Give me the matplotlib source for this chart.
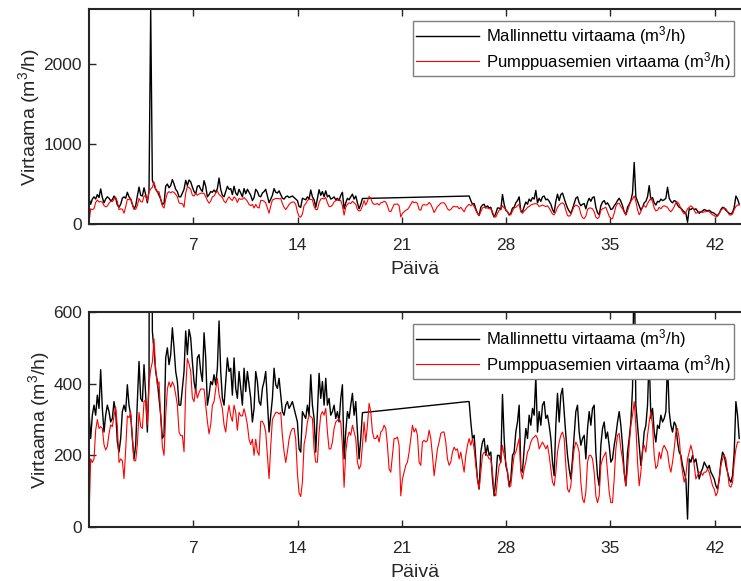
import numpy as np
import matplotlib.pyplot as plt

plt.rcParams['font.family'] = ['Liberation Sans', 'DejaVu Sans']
plt.rcParams['mathtext.fontset'] = 'custom'
plt.rcParams['mathtext.rm'] = 'Liberation Sans'
plt.rcParams['mathtext.it'] = 'Liberation Sans:italic'

# ── Data (m3/h), sampled every ~0.112 days ───────────────────────────────────
dt = 0.1119

red = [
    20, 190, 180, 190, 270, 300, 275, 280, 275, 230,
    215, 225, 260, 285, 280, 310, 335, 280, 180, 190,
    185, 135, 215, 310, 305, 320, 250, 185, 185, 230,
    320, 280, 275, 350, 355, 285, 400, 440, 460, 525,
    440, 395, 405, 310, 225, 200, 310, 385, 405, 390,
    405, 395, 370, 340, 265, 255, 255, 210, 385, 470,
    455, 435, 360, 350, 385, 360, 375, 385, 385, 385,
    340, 295, 260, 285, 340, 350, 385, 415, 370, 350,
    330, 285, 265, 310, 340, 310, 295, 340, 320, 270,
    320, 310, 310, 330, 310, 285, 245, 230, 245, 200,
    245, 210, 200, 295, 295, 285, 265, 200, 135, 225,
    300, 310, 320, 320, 315, 320, 255, 210, 180, 210,
    245, 265, 275, 275, 245, 150, 95, 85, 125, 230,
    255,
    293, 312, 308, 303, 218, 181, 181, 265, 312, 322,
    312, 331, 265, 218, 218, 237, 275, 293, 298, 303,
    293, 228, 111, 209, 247, 265, 256, 284, 265, 247,
    181, 162, 172, 228, 293, 237, 284, 345, 322, 265,
    247, 247, 256, 237, 265, 270, 284, 275, 228, 162,
    153, 200, 247, 247, 251, 228, 87, 134, 153, 172,
    181, 209, 247, 284, 265, 275, 256, 181, 172, 237,
    242, 237, 242, 270, 247, 200, 143, 181, 218, 237,
    261, 265, 265, 237, 190, 172, 181, 209, 223, 214,
    218, 190, 209, 181, 153, 200, 228, 247, 228, 247,
    218, 172, 134, 106, 153, 200, 209, 204, 200, 190,
    190, 153, 97, 87, 134, 172, 181, 228, 200, 181,
    153, 111, 115, 162, 200, 209, 228, 247,
    153, 134, 162, 181, 209, 218, 237, 247, 251, 256,
    247, 218, 228, 237, 228, 218, 228, 200, 162, 125,
    115, 153, 209, 237, 256, 265, 247, 172, 106, 97,
    115, 172, 218, 237, 228, 209, 125, 78, 68, 97,
    181, 200, 200, 190, 153, 87, 68, 87, 172, 190,
    200, 209, 153, 97, 68, 68, 134, 218, 256, 261,
    218, 190, 153, 115, 162, 228, 284, 312, 350, 284,
    181, 115, 153, 218, 228, 209, 256, 293, 322, 284,
    200, 163, 172, 209, 190, 218, 228, 218, 209, 172,
    153, 181, 218, 265, 275, 247, 190, 153, 125, 144,
    190, 209, 228, 209, 172, 134, 144, 153, 153, 144,
    153, 153, 162, 153, 134, 115, 106, 87, 97, 134,
    172, 190, 200, 190, 153, 115, 111, 125, 181, 218,
    237, 237,
]

# modelled flow: two stretches, no model output in between
black_a = [
    322, 247, 312, 340, 312, 368, 331, 439, 331, 265,
    312, 340, 322, 293, 303, 350, 322, 237, 209, 247,
    322, 340, 322, 397, 340, 312, 247, 190, 228, 350,
    462, 359, 350, 453, 368, 265, 415, 2690, 547, 490,
    434, 406, 359, 312, 247, 256, 472, 500, 453, 481,
    556, 500, 434, 406, 340, 340, 387, 434, 547, 481,
    551, 528, 462, 406, 378, 472, 481, 434, 406, 542,
    472, 340, 368, 406, 397, 425, 397, 443, 575, 434,
    359, 340, 406, 472, 434, 443, 368, 472, 387, 359,
    434, 387, 340, 443, 378, 434, 397, 359, 293, 331,
    434, 406, 350, 340, 387, 406, 434, 350, 265, 312,
    359, 443, 397, 387, 415, 368, 322, 312, 340, 350,
    331, 340, 350, 331, 312, 293, 218, 209, 322, 312,
    303,
    340, 312, 425, 340, 303, 209, 322, 429, 359, 406,
    340, 415, 340, 359, 312, 322, 340, 303, 322, 293,
    359, 397, 190, 265, 322, 303, 340, 373, 312, 350,
    265, 190, 247, 319,
]
black_b_start = 227
black_b = [
    350, 350, 293, 247, 256, 190, 134, 106, 209, 237,
    247, 200, 228, 200, 209, 134, 87, 134, 200, 200,
    181, 370, 247, 172, 153, 115, 134, 200, 209, 265,
    293, 340,
    162, 153, 218, 275, 247, 312, 284, 331, 312, 420,
    265, 322, 284, 340, 350, 303, 312, 284, 247, 181,
    143, 284, 373, 293, 368, 387, 322, 256, 200, 162,
    134, 190, 256, 322, 340, 265, 228, 247, 256, 190,
    274, 322, 284, 331, 340, 209, 143, 115, 228, 275,
    293, 247, 265, 228, 181, 190, 228, 256, 293, 322,
    284, 228, 153, 115, 209, 247, 293, 387, 770, 340,
    284, 228, 172, 209, 265, 284, 340, 480, 303, 331,
    265, 237, 284, 275, 312, 293, 303, 322, 460, 322,
    284, 265, 293, 284, 237, 209, 200, 172, 153, 134,
    22, 190, 181, 200, 181, 190, 163, 134, 153, 163,
    181, 172, 163, 172, 153, 144, 134, 115, 106, 134,
    181, 209, 200, 172, 153, 134, 125, 144, 209, 350,
    312, 247,
]

labels = ['Mallinnettu virtaama (m$^3$/h)', 'Pumppuasemien virtaama (m$^3$/h)']
xticks = [7, 14, 21, 28, 35, 42]

t_red = np.arange(len(red)) * dt
idx_black = np.concatenate([np.arange(len(black_a)),
                            black_b_start + np.arange(len(black_b))])
t_black = idx_black * dt
v_black = np.array(black_a + black_b, dtype=float)

# ── Plotting ─────────────────────────────────────────────────────────────────
W, H = 741, 581
fig = plt.figure(figsize=(W / 100, H / 100), dpi=100)
ax_top = fig.add_axes([89 / W, 1 - 224 / H, 652 / W, 215 / H])
ax_bot = fig.add_axes([89 / W, 1 - 527 / H, 652 / W, 215 / H])

ink = '#262626'
panels = [(ax_top, (0, 2690), [0, 1000, 2000], 21),
          (ax_bot, (0, 600), [0, 200, 400, 600], 324)]

for ax, ylim, yticks, leg_top in panels:
    ax.plot(t_black, v_black, color='black', lw=1.0)
    ax.plot(t_red, red, color='#ff0000', lw=0.8)
    ax.set_xlim(0, 43.76)
    ax.set_ylim(*ylim)
    ax.set_xticks(xticks)
    ax.set_yticks(yticks)
    ax.tick_params(direction='in', top=True, right=False, length=5, width=1,
                   colors=ink, labelsize=12.5)
    ax.tick_params(axis='x', pad=10)
    ax.tick_params(axis='y', pad=5)
    for name, sp in ax.spines.items():
        sp.set_color(ink)
        sp.set_linewidth(1.5)
    ax.spines['right'].set_visible(False)
    ax.set_xlabel('Päivä', fontsize=14, color=ink, labelpad=6)
    ax.set_ylabel('Virtaama (m$^3$/h)', fontsize=14, color=ink, labelpad=1)
    leg = ax.legend(labels, loc='upper right', bbox_to_anchor=(734 / W, 1 - leg_top / H),
                    bbox_transform=fig.transFigure, borderaxespad=0, fancybox=False,
                    framealpha=1, edgecolor='#7f7f7f', fontsize=12,
                    handlelength=3.8, handletextpad=0.4, labelspacing=0.15,
                    borderpad=0.2)
    leg.get_frame().set_linewidth(1.0)
    for txt in leg.get_texts():
        txt.set_color('black')

fig.savefig('out.png', dpi=100)
